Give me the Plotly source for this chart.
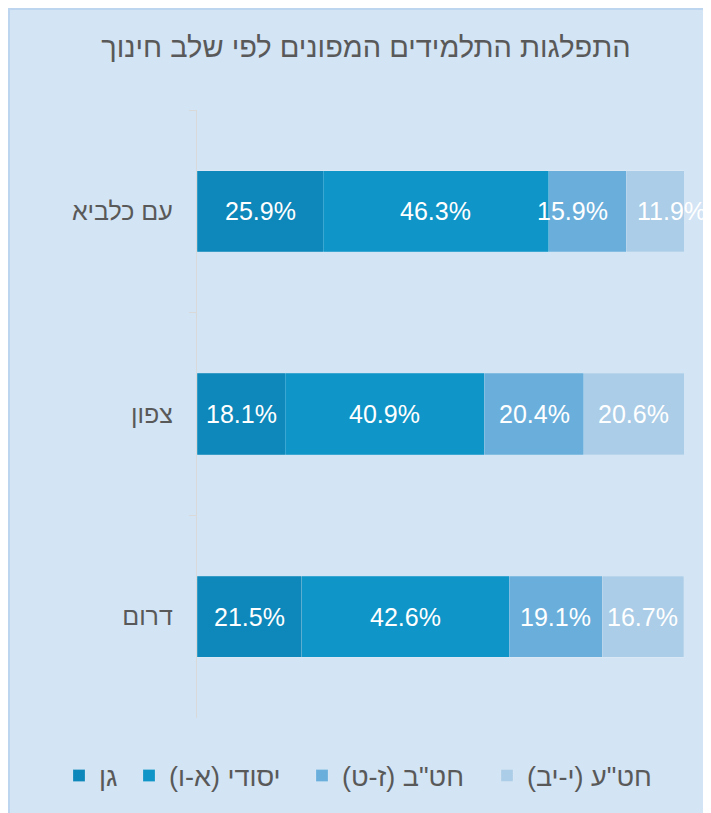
import plotly.graph_objects as go

categories = ["עם כלביא", "צפון", "דרום"]
series_names = ["גן", "יסודי (א-ו)", "חט\"ב (ז-ט)", "חט\"ע (י-יב)"]
gan = [25.9, 18.1, 21.5]
yesodi = [46.3, 40.9, 42.6]
chatav = [15.9, 20.4, 19.1]
chata = [11.9, 20.6, 16.7]
colors = ["#0E88BA", "#0F95C7", "#6AAFDC", "#ABCDE7"]

# label nudges (pixels) where the original chart moved overlapping labels apart
label_shift = {(2, 0): -15, (3, 0): 16}

FONT = "Liberation Sans, Arial, sans-serif"
W, H = 711, 813
L, R, T, B = 189, 35, 102, 103
pw, ph = W - L - R, H - T - B

series = [gan, yesodi, chatav, chata]
legend_ids = ["legend", "legend2", "legend3", "legend4"]
legend_x = [51, 121, 294, 479]

fig = go.Figure()
for name, vals, col, lid in zip(series_names, series, colors, legend_ids):
    fig.add_trace(go.Bar(
        y=categories, x=vals, name=name, orientation="h", legend=lid,
        marker=dict(color=col, line=dict(color="rgba(255,255,255,0.25)", width=0.7)),
        hoverinfo="skip",
    ))

annotations = []
for j in range(len(categories)):
    start = 0.0
    for i, vals in enumerate(series):
        v = vals[j]
        annotations.append(dict(
            x=start + v / 2, y=categories[j], xref="x", yref="y",
            text=f"{v:.1f}%", showarrow=False, xanchor="center", yanchor="middle",
            xshift=label_shift.get((i, j), 0),
            font=dict(color="white", size=25, family=FONT),
        ))
        start += v

def px2x(px):
    return (px - L) / pw

def py2y(py):
    return 1 - (py - T) / ph

layout_legends = {}
for lid, lx in zip(legend_ids, legend_x):
    layout_legends[lid] = dict(
        orientation="h", x=lx / W, xanchor="left", xref="container",
        y=1 - 768 / H, yanchor="middle", yref="container", bgcolor="rgba(0,0,0,0)",
        font=dict(size=27, color="#595959", family=FONT), itemwidth=30)

fig.update_layout(
    width=W, height=H,
    barmode="stack", bargap=0.6,
    margin=dict(l=L, r=R, t=T, b=B, autoexpand=False),
    paper_bgcolor="#D3E4F5", plot_bgcolor="rgba(0,0,0,0)",
    font=dict(family=FONT, color="#595959"),
    title=dict(text="התפלגות התלמידים המפונים לפי שלב חינוך", x=358 / W, xanchor="center",
               y=1 - 39 / H, yanchor="middle", font=dict(size=29, color="#595959", family=FONT)),
    xaxis=dict(range=[0, 100], visible=False, showgrid=False, fixedrange=True),
    yaxis=dict(categoryorder="array", categoryarray=categories, autorange="reversed",
               showline=True, linecolor="#D9D9D9", linewidth=1.3,
               ticks="outside", ticklen=7, tickcolor="#D9D9D9", tickson="boundaries",
               tickfont=dict(size=25, color="#595959", family=FONT), ticklabelstandoff=18,
               showgrid=False),
    showlegend=True,
    annotations=annotations,
    shapes=[dict(type="rect", xref="paper", yref="paper",
                 x0=px2x(1), x1=px2x(W + 5), y0=py2y(H + 5), y1=py2y(1),
                 fillcolor="rgba(0,0,0,0)", line=dict(color="#BDD5EE", width=2), layer="below")],
    **layout_legends,
)

fig.write_html("out.html")
